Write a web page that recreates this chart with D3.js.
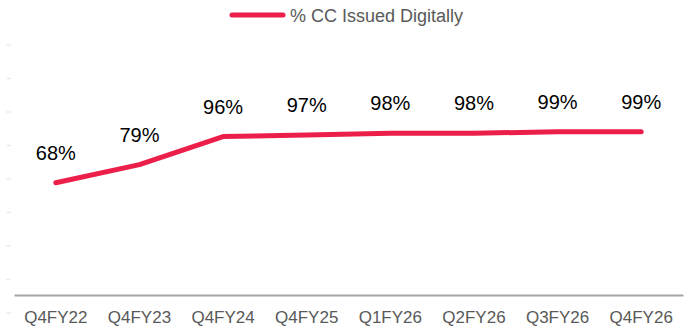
<!DOCTYPE html>
<html>
<head>
<meta charset="utf-8">
<script src="https://cdn.jsdelivr.net/npm/d3@7"></script>
<style>
  html, body { margin: 0; padding: 0; background: #fff; }
  svg { display: block; font-family: "Liberation Sans", Arial, sans-serif; }
</style>
</head>
<body>
<svg id="chart" width="692" height="328"></svg>
<script>
// Quarterly share of credit cards issued through digital channels
const quarters = ["Q4FY22", "Q4FY23", "Q4FY24", "Q4FY25", "Q1FY26", "Q2FY26", "Q3FY26", "Q4FY26"];
const digitalShare = [68, 79, 96, 97, 98, 98, 99, 99];
const seriesName = "% CC Issued Digitally";
// faint guide marks along the left edge
const guideMarks = [0, 1, 2, 3, 4, 5, 6, 7, 8];

const lineColor = "#EB1F4A";
const svg = d3.select("#chart");

const x = d3.scaleBand().domain(quarters).range([14, 683]);
const y = d3.scaleLinear().domain([0, 160]).range([295, 31]);
const g = d3.scaleLinear().domain([0, 8]).range([313, 45]);

// faint left marks
svg.append("g").selectAll("line").data(guideMarks).join("line")
  .attr("x1", 6).attr("x2", 11)
  .attr("y1", d => g(d)).attr("y2", d => g(d))
  .attr("stroke", "#ececec").attr("stroke-width", 1.5);

// x axis
const xAxis = svg.append("g")
  .attr("transform", `translate(0,${y(0)})`)
  .call(d3.axisBottom(x).tickSize(0).tickPadding(16));
xAxis.select(".domain").attr("stroke", "#a6a6a6").attr("stroke-width", 2);
xAxis.selectAll("text")
  .attr("fill", "#595959")
  .style("font-size", "17px")
  .style("font-family", "'Liberation Sans', Arial, sans-serif");

const cx = d => x(d) + x.bandwidth() / 2;

// series line
const line = d3.line()
  .x((d, i) => cx(quarters[i]))
  .y(d => y(d));
svg.append("path")
  .datum(digitalShare)
  .attr("d", line)
  .attr("fill", "none")
  .attr("stroke", lineColor)
  .attr("stroke-width", 5)
  .attr("stroke-linecap", "round")
  .attr("stroke-linejoin", "round");

// value labels
svg.append("g").selectAll("text").data(digitalShare).join("text")
  .attr("x", (d, i) => cx(quarters[i]))
  .attr("y", d => y(d) - 23)
  .attr("text-anchor", "middle")
  .attr("fill", "#000")
  .style("font-size", "20px")
  .text(d => d + "%");

// legend
const legend = svg.append("g");
legend.append("line")
  .attr("x1", 232).attr("x2", 283)
  .attr("y1", 15).attr("y2", 15)
  .attr("stroke", lineColor)
  .attr("stroke-width", 5)
  .attr("stroke-linecap", "round");
legend.append("text")
  .attr("x", 290).attr("y", 21.5)
  .attr("fill", "#595959")
  .style("font-size", "18px")
  .text(seriesName);
</script>
</body>
</html>
